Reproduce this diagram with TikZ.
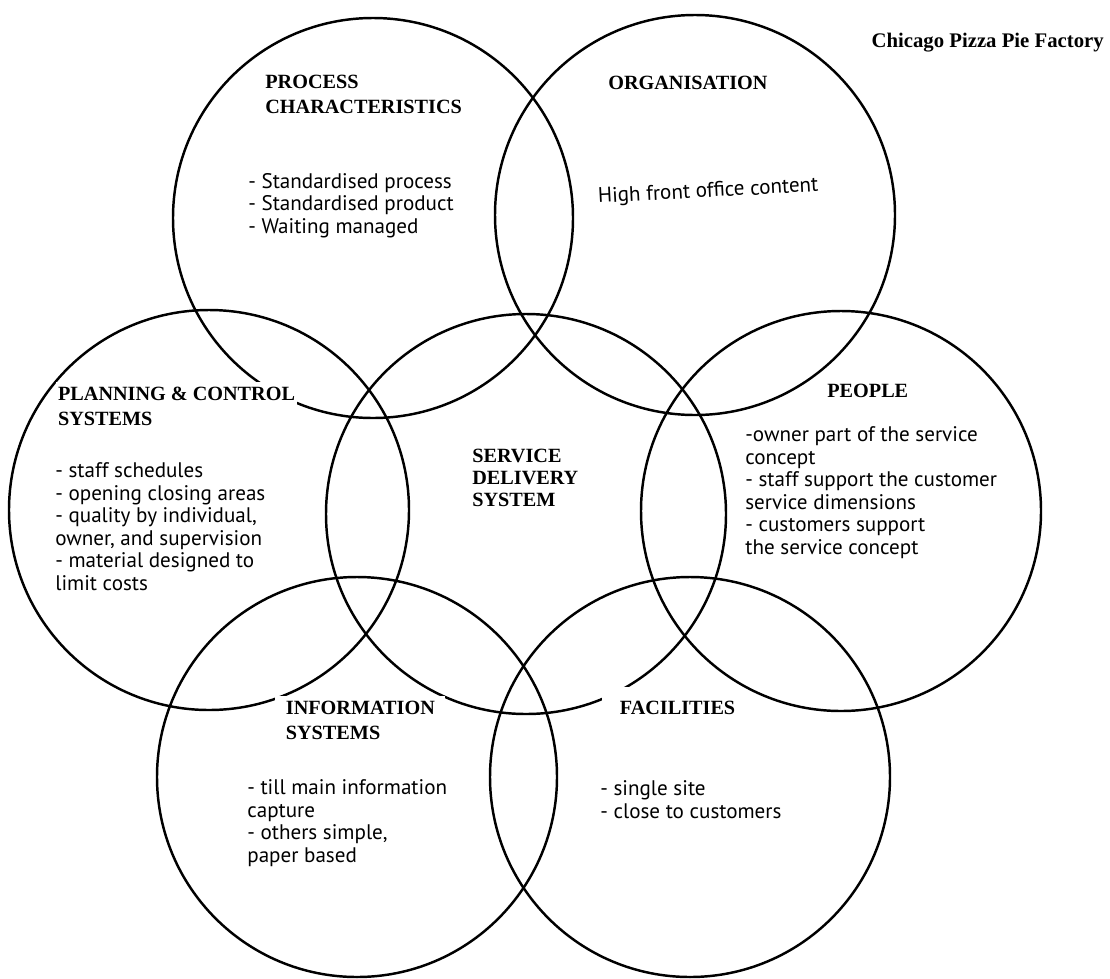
\documentclass[tikz,border=0pt]{standalone}
\usepackage{fontspec}
\setmainfont{PT Sans}
\newfontfamily\headfont{Liberation Serif}
\usetikzlibrary{positioning}

\tikzset{
    ring/.style={circle, draw, line width=1.4pt, minimum size=80mm, inner sep=0pt},
    head/.style={font=\headfont\bfseries\fontsize{11.5}{14}\selectfont, align=left, anchor=base west, inner sep=0pt},
    body/.style={font=\fontsize{12}{12.8}\selectfont, align=left, anchor=base west, inner sep=0pt},
    cut/.style={fill=white}
}

\begin{document}
\begin{tikzpicture}[x=0.2mm, y=-0.2mm]
    \useasboundingbox (0,0) rectangle (1110,978);

    % seven overlapping circles
    \node[ring] (proc) at (373,218) {};
    \node[ring] (org)  at (695,215) {};
    \node[ring] (plan) at (209,510) {};
    \node[ring] (serv) at (526,514) {};
    \node[ring] (peop) at (841,511) {};
    \node[ring] (info) at (357,777) {};
    \node[ring] (faci) at (690,777) {};

    % title
    \node[head, font=\headfont\bfseries\fontsize{11.8}{13}\selectfont, anchor=base east] (title) at (1104,47) {Chicago Pizza Pie Factory};

    % process characteristics (anchors sit on the last line)
    \node[head] (procHead) at (265,113) {PROCESS\\CHARACTERISTICS};
    \node[body] (procText) at (248,233) {- Standardised process\\- Standardised product\\- Waiting managed};

    % organisation
    \node[head] (orgHead) at (608,89) {ORGANISATION};
    \node[body, rotate=3] (orgText) at (598,203) {High front office content};

    % planning and control
    \node[head, cut, inner xsep=1pt, inner ysep=3pt] (planHead) at (56,425) {PLANNING \& CONTROL\\SYSTEMS};
    \node[body] (planText) at (55,590) {- staff schedules\\- opening closing areas\\- quality by individual,\\owner, and supervision\\- material designed to\\limit costs};

    % service delivery system
    \node[head, font=\headfont\bfseries\fontsize{11.5}{12.5}\selectfont] (servHead) at (472,506) {SERVICE\\DELIVERY\\SYSTEM};

    % people
    \node[head] (peopHead) at (827,397) {PEOPLE};
    \node[body] (peopText) at (745,554) {-owner part of the service\\concept\\- staff support the customer\\service dimensions\\- customers support\\the service concept};

    % information systems
    \node[head, cut, inner xsep=6pt, inner ysep=3pt] (infoHead) at (275,739) {INFORMATION\\SYSTEMS};
    \node[body] (infoText) at (247,862) {- till main information\\capture\\- others simple,\\paper based};

    % facilities
    \node[head, cut, inner xsep=1pt, inner ysep=8pt] (faciHead) at (602,714) {\hspace*{9pt}FACILITIES};
    \node[body] (faciText) at (600,818) {- single site\\- close to customers};
\end{tikzpicture}
\end{document}
